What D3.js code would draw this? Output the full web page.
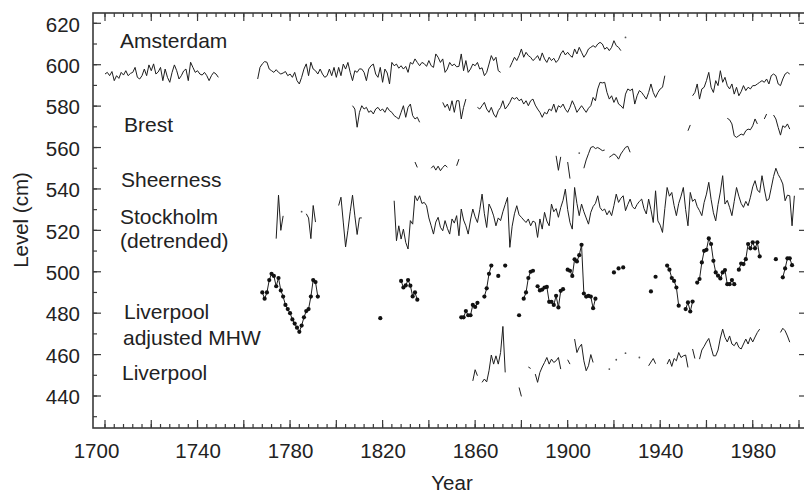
<!DOCTYPE html>
<html>
<head>
<meta charset="utf-8">
<script src="https://d3js.org/d3.v7.min.js"></script>
<style>
body { margin: 0; background: #fff; }
text { font-family: "Liberation Sans", Arial, Helvetica, sans-serif; fill: #222; }
</style>
</head>
<body>
<svg width="804" height="493"></svg>
<script>
// each series: list of [first year, annual values] runs, gaps between runs
var amsterdam = [
  [1700, [595.5, 596.3, 594.7, 596.7, 592.3, 594.7, 593.4, 596.3, 595.0, 597.1, 594.7, 595.8, 596.3, 598.7, 593.9, 593.1, 594.7, 597.9, 594.7, 599.9, 597.1, 600.4, 595.5, 596.5, 598.7, 592.3, 597.9, 593.9, 591.5, 596.3, 599.9, 597.1, 593.1, 594.7, 597.0, 597.9, 592.3, 601.2, 598.7, 596.3, 597.1, 595.5, 595.0, 596.3, 594.7, 592.3, 594.7, 596.3, 595.5, 593.9]],
  [1766, [593.1, 598.7, 600.4, 601.5, 601.2, 597.9, 597.1, 596.3, 597.6, 596.3, 595.5, 596.0, 596.7, 594.7, 595.5, 593.9, 596.3, 592.3, 590.7, 593.9, 597.9, 600.4, 594.7, 601.2, 597.9, 597.1, 595.5, 597.9, 595.5, 593.9, 594.7, 597.9, 594.7, 598.7, 593.9,
          598.7, 594.7, 600.3, 597.9, 601.1, 596.3, 592.3, 597.1, 596.3, 598.0, 597.9, 596.3, 592.3, 597.9, 599.5, 600.3, 595.5, 593.9, 598.7, 591.5, 597.9, 596.0, 590.7, 601.1, 599.5, 600.3, 598.3, 599.5, 597.9, 599.2, 596.3, 601.1, 600.3, 602.8, 601.1, 599.5, 601.1, 600.5, 599.2, 602.0, 599.5, 598.7, 605.2, 603.6, 601.1, 602.8, 596.3, 597.9, 601.1, 599.5, 600.3, 599.0, 599.2, 605.2, 597.1, 602.0, 596.3, 597.9, 600.3, 599.5, 601.1, 597.9, 598.5, 594.7, 596.3, 600.3, 604.4, 602.0, 603.6, 597.1, 596.3]],
  [1875, [598.7, 601.1, 603.6, 602.0, 604.4, 607.6, 603.6, 606.0, 604.4, 603.6, 602.0, 603.0, 604.4, 602.0, 605.7, 602.8, 601.1, 603.6, 602.0, 603.1, 601.1, 602.4, 605.2, 606.8, 604.7, 606.0, 604.5, 603.6, 607.6, 605.2, 608.4, 606.0, 603.6, 605.2, 607.6, 608.4, 609.2, 608.4, 610.0, 610.8, 610.0, 607.5, 608.4, 606.8, 608.4, 611.6, 609.2, 608.4, 606.8]],
  [1925, [613.2]]
];
var brest = [
  [1807, [580.2, 578.6, 569.8, 577.0, 580.2, 578.6, 579.4, 577.0, 577.8, 576.2, 578.6, 579.4, 577.8, 578.6, 577.0, 579.4, 577.8, 577.0, 575.4, 574.6, 573.8, 577.0, 580.2, 574.6, 579.4, 581.0, 575.4, 573.8, 574.6, 572.2]],
  [1846, [581.8, 579.4, 581.0, 577.8, 582.6, 577.0, 582.6, 582.6, 573.8, 579.4, 583.4]],
  [1861, [579.4, 578.6, 580.2, 581.8, 578.6, 577.0, 579.4, 576.2, 574.6, 577.8, 579.4, 582.6, 578.6, 580.0, 581.8, 584.2, 583.4, 584.2, 582.6, 583.4, 581.0, 582.6, 580.2, 582.6, 583.4, 580.5, 578.6, 577.0, 574.6, 577.0, 576.2, 578.6, 577.8, 581.0, 577.0, 580.2, 579.4, 581.0, 578.5, 577.0, 579.4, 582.6, 580.2, 577.0, 578.6, 580.2, 578.6, 577.0, 579.0, 580.2, 584.2, 582.6, 588.3,
          591.5, 591.2, 591.5, 586.6, 583.4, 585.0, 581.8, 584.2, 581.0, 580.2, 578.9, 585.8, 588.3, 587.5, 588.3, 581.0, 585.0, 587.5, 586.6, 585.0, 583.4, 586.6, 590.7, 586.6, 584.2, 586.6, 588.3, 589.1, 594.7]],
  [1954, [585.0, 586.6, 590.7, 583.4, 588.3, 589.1, 592.3, 596.3, 589.1, 586.6, 592.3, 589.9, 597.1, 591.5, 593.9, 589.9, 588.3, 590.7, 585.8, 589.1, 585.0, 587.0, 589.9, 587.5, 589.1, 588.3, 589.9, 589.9, 590.7, 591.5, 592.3, 591.5, 593.1, 590.7, 594.7, 595.5, 594.7, 590.7, 589.9, 593.1, 595.5, 596.3, 595.5]]
];
var sheerness = [
  [1834, [553.0, 550.4]],
  [1841, [550.0, 551.2, 549.1, 551.0, 548.8, 550.4, 551.5, 550.5]],
  [1852, [551.2, 554.4]],
  [1895, [556.0, 549.0, 555.5]],
  [1900, [553.0, 545.0]],
  [1905, [557.3]],
  [1907, [550.0, 554.0, 557.0, 560.0, 560.5, 559.5, 560.0, 559.3, 558.5, 558.8]],
  [1918, [555.3, 556.1, 556.9, 556.1, 554.4, 556.9, 558.5, 560.1, 560.6, 557.7]],
  [1952, [568.1, 570.9]],
  [1969, [574.1, 573.4, 571.4, 565.7, 564.9, 565.7, 566.5, 566.0, 568.1, 568.9, 568.6, 570.5, 573.8, 571.4]],
  [1985, [573.8, 576.2]],
  [1989, [575.7, 573.8, 569.7, 566.0, 570.5, 569.7, 571.4, 568.9]]
];
var stockholm = [
  [1774, [516, 537, 520, 527]],
  [1785, [529]],
  [1787, [528, 526, 516, 532, 524]],
  [1801, [532, 536, 524, 512, 520, 529, 537, 527, 518, 526, 526]],
  [1825, [534.3, 515.0, 522.2, 515.8, 520.6, 514.2, 511.0, 524.7, 523.0, 536.7,
          534.3, 536.7, 533.0, 533.5, 531.9, 526.0, 522.2, 518.2, 524.0, 526.3,
          521.5, 519.8, 524.7, 521.0, 518.2, 525.5, 523.5, 527.1, 517.4, 530.3,
          525.0, 522.2, 518.2, 525.0, 530.3, 526.5, 523.8, 530.0, 537.5, 528.0,
          521.4, 532.7, 530.3, 527.0, 522.2, 526.0, 524.7, 529.0, 532.5, 535.9,
          511.8, 522.0, 528.0, 531.9, 527.5, 526.3, 525.0, 523.8, 525.5, 522.2,
          524.5, 523.8, 516.6, 525.5, 520.6, 528.7, 524.5, 522.2, 532.7, 529.0,
          530.5, 526.3, 531.0, 534.5, 539.9, 530.0, 523.8, 520.6, 540.7, 533.0,
          527.1, 532.7, 529.0, 526.0, 523.0, 528.7, 531.5, 533.0, 536.7, 531.0,
          529.5, 530.3, 527.5, 529.5, 527.1, 532.0, 537.5, 533.5, 535.5, 536.7,
          529.5, 532.5, 535.1, 531.5, 530.3, 532.5, 534.0, 535.1, 530.5, 527.9,
          535.1, 530.0, 523.8, 539.1, 524.6, 522.5, 519.0, 530.5, 540.7, 536.5,
          538.3, 532.0, 527.1, 533.0, 536.5, 540.7, 530.0, 522.2, 538.3, 534.0,
          535.1, 531.5, 529.5, 527.1, 533.5, 537.5, 543.2, 535.0, 528.5, 524.6,
          532.5, 538.5, 546.4, 532.7, 534.5, 531.1, 527.1, 534.0, 540.7, 536.5,
          533.0, 531.1, 534.0, 531.9, 536.0, 541.0, 544.0, 539.5, 538.3, 546.4,
          540.0, 534.3, 535.1, 540.5, 546.0, 550.0, 547.0, 545.0, 542.4, 534.3,
          537.0, 536.7, 522.2, 536.7]]
];
var liverpoolMHW = [
  [1768, [490, 487, 490, 496, 499, 498, 493, 497, 491, 488, 484, 482, 480, 477, 475, 473, 471, 474, 478, 481, 482, 488, 496, 495, 488]],
  [1819, [477.6]],
  [1828, [495.6, 492.4, 493.4, 496.0, 493.3, 488.1, 490.0, 486.5]],
  [1854, [478, 478, 481, 479, 479, 484, 483, 485]],
  [1864, [488, 492, 499, 503]],
  [1870, [498]],
  [1873, [503]],
  [1879, [479]],
  [1881, [487, 490, 497, 500, 500.5]],
  [1887, [493, 491, 491.4, 492.4, 492.7, 485.5, 485.5, 484, 488.4, 482.8, 490.8, 491.6]],
  [1900, [501, 500.5, 498, 506, 505, 508, 513, 489.5, 488, 488.4, 488, 482.4, 487]],
  [1920, [499.7]],
  [1922, [501.6]],
  [1924, [502.1]],
  [1936, [490.5]],
  [1938, [497.6]],
  [1943, [503, 501, 497, 495.6, 492.4, 483.6]],
  [1951, [482, 485.2, 480.8, 485.6]],
  [1956, [494.8, 496.5, 504.5, 510.1, 510.6, 516.1, 513.4, 505.3, 499.7, 498.1, 496.8, 499.7, 500.8, 494, 494, 496, 494]],
  [1974, [501, 504, 503.7, 506.1, 513.4, 511.3, 514.2, 511.3, 514.2, 507.4]],
  [1990, [506.1]],
  [1993, [497.3, 501.6, 506.5, 506.5, 503.2]]
];
var liverpool = [
  [1859, [447.3, 452.7, 449.8]],
  [1863, [446.6, 448.2, 446.8, 452.2, 459.8, 455.4, 459.4, 455.4, 461.0, 473.6, 451.4]],
  [1879, [444.1, 439.8]],
  [1883, [454.0, 453.3]],
  [1886, [450.6, 446.6, 451.4, 454.0, 456.2, 458.6, 455.4, 457.8, 456.2, 457.0, 458.6, 453.0]],
  [1900, [457.5, 455.4]],
  [1903, [467.5, 461.0, 463.5, 465.0, 457.0, 452.2, 454.6, 460.0, 456.2]],
  [1918, [453.0]],
  [1921, [457.5]],
  [1925, [460.7]],
  [1931, [458.6]],
  [1935, [454.6, 456.4, 458.1, 455.6]],
  [1943, [455.4, 457.8, 454.3, 458.1, 457.0, 461.0, 458.6, 459.4, 459.8, 453.8]],
  [1954, [462.7, 458.1]],
  [1957, [457.8, 462.2, 464.0, 466.1, 467.8, 463.5, 459.4, 459.4, 462.2, 468.0, 472.3, 468.3, 466.1, 469.0, 465.1, 464.3, 466.1, 463.5, 462.7, 465.1, 467.5, 465.1, 468.3, 466.1, 468.5, 470.7, 472.3]],
  [1992, [470.7, 472.7, 471.5, 469.0, 466.0]]
];

var seriesLabels = [
  {text: "Amsterdam", x: 120, y: 48},
  {text: "Brest", x: 124, y: 132},
  {text: "Sheerness", x: 121, y: 187},
  {text: "Stockholm", x: 120, y: 224},
  {text: "(detrended)", x: 120, y: 248},
  {text: "Liverpool", x: 124, y: 319},
  {text: "adjusted MHW", x: 123, y: 345},
  {text: "Liverpool", x: 122, y: 380}
];
var xMajor = d3.range(1700, 2001, 20),
  xMinor = d3.range(1700, 2001, 4),
  xLabels = [1700, 1740, 1780, 1820, 1860, 1900, 1940, 1980],
  yMajor = d3.range(440, 621, 20),
  yMinor = d3.range(430, 621, 10);

var svg = d3.select("svg"),
  plotL = 93, plotR = 805, plotT = 13, plotB = 428;

var x = d3.scaleLinear().domain([1700, 2000]).range([105, 799]);
var y = d3.scaleLinear().domain([440, 620]).range([396, 23.3]);

var line = d3.line()
  .x(function(d) { return x(d[0]); })
  .y(function(d) { return y(d[1]); });

function pts(run) {
  return run[1].map(function(v, i) { return [run[0] + i, v]; });
}

function drawSeries(runs, dots) {
  var g = svg.append("g");
  runs.forEach(function(run) {
    var p = pts(run);
    if (p.length > 1) {
      g.append("path").datum(p)
        .attr("d", line)
        .attr("fill", "none")
        .attr("stroke", "#1e1e1e")
        .attr("stroke-width", 1)
        .attr("stroke-linejoin", "round");
    }
    if (dots) {
      g.selectAll(null).data(p).enter().append("circle")
        .attr("cx", function(d) { return x(d[0]); })
        .attr("cy", function(d) { return y(d[1]); })
        .attr("r", 2.1)
        .attr("fill", "#111");
    } else if (p.length == 1) {
      g.append("circle")
        .attr("cx", x(p[0][0])).attr("cy", y(p[0][1]))
        .attr("r", 0.9).attr("fill", "#555");
    }
  });
}

drawSeries(amsterdam, false);
drawSeries(brest, false);
drawSeries(sheerness, false);
drawSeries(stockholm, false);
drawSeries(liverpoolMHW, true);
drawSeries(liverpool, false);

// frame and ticks
var axisCol = "#3a3a3a";
svg.append("rect")
  .attr("x", plotL).attr("y", plotT)
  .attr("width", plotR - plotL).attr("height", plotB - plotT)
  .attr("fill", "none").attr("stroke", axisCol).attr("stroke-width", 1.6);

function ticks(vals, len, horizontal) {
  var g = svg.append("g").attr("stroke", axisCol).attr("stroke-width", 1.2);
  vals.forEach(function(v) {
    if (horizontal) {
      g.append("line").attr("x1", x(v)).attr("x2", x(v)).attr("y1", plotB).attr("y2", plotB - len);
      g.append("line").attr("x1", x(v)).attr("x2", x(v)).attr("y1", plotT).attr("y2", plotT + len);
    } else {
      g.append("line").attr("x1", plotL).attr("x2", plotL + len).attr("y1", y(v)).attr("y2", y(v));
    }
  });
}
ticks(xMinor, 4, true);
ticks(xMajor, 8, true);
ticks(yMinor, 4, false);
ticks(yMajor, 8, false);
svg.append("g").attr("stroke", axisCol).attr("stroke-width", 1.2)
  .selectAll("line").data(yMajor).enter().append("line")
  .attr("x1", plotR).attr("x2", plotR - 6)
  .attr("y1", function(d) { return y(d); })
  .attr("y2", function(d) { return y(d); });

// tick labels
svg.append("g").attr("transform", "translate(0," + plotB + ")")
  .call(d3.axisBottom(x).tickValues(xLabels).tickSize(0).tickPadding(15).tickFormat(d3.format("d")))
  .call(function(g) { g.select(".domain").remove(); })
  .selectAll("text")
  .attr("font-size", 20.5)
  .attr("font-family", "Liberation Sans, Arial, sans-serif")
  .attr("fill", "#222")
  .attr("dx", function(d) { return d == 1700 ? -9 : 0; });

svg.append("g").attr("transform", "translate(" + plotL + ",0)")
  .call(d3.axisLeft(y).tickValues(yMajor).tickSize(0).tickPadding(13).tickFormat(d3.format("d")))
  .call(function(g) { g.select(".domain").remove(); })
  .selectAll("text")
  .attr("font-size", 20.5)
  .attr("font-family", "Liberation Sans, Arial, sans-serif")
  .attr("fill", "#222")
  .attr("dy", "0.38em");

// axis titles
svg.append("text").attr("x", 452).attr("y", 490)
  .attr("text-anchor", "middle").attr("font-size", 20.5).text("Year");
svg.append("text")
  .attr("transform", "translate(28,220) rotate(-90)")
  .attr("text-anchor", "middle").attr("font-size", 20.5).text("Level (cm)");

svg.append("g").selectAll("text").data(seriesLabels).enter().append("text")
  .attr("x", function(d) { return d.x; })
  .attr("y", function(d) { return d.y; })
  .attr("font-size", 21)
  .text(function(d) { return d.text; });
</script>
</body>
</html>
